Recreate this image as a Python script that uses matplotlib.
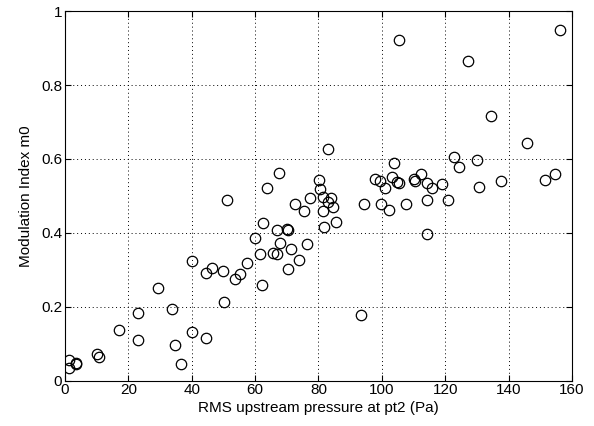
import numpy as np
import matplotlib
matplotlib.use("Agg")
import matplotlib.pyplot as plt

# RMS upstream pressure at pt2 (Pa) vs modulation index m0
pressure = [
    1.3, 1.3, 3.4, 3.6, 10.0, 10.8, 17.1, 22.9, 22.9, 29.4,
    33.9, 34.7, 36.6, 40.2, 40.2, 44.5, 44.5, 46.3, 49.9, 50.3,
    53.8, 55.2, 57.3, 59.9, 51.2, 62.2, 61.7, 62.6, 63.8, 65.5,
    66.8, 66.8, 67.5, 67.8, 70.1, 70.4, 70.4, 71.3, 72.6, 73.9,
    75.5, 76.4, 77.3, 80.1, 80.4, 81.3, 81.5, 81.8, 83.1, 83.1,
    83.8, 84.6, 85.4, 93.3, 94.3, 97.8, 99.4, 99.7, 100.9, 102.4,
    103.1, 103.9, 104.9, 105.5, 105.5, 107.6, 110.2, 110.4, 112.5, 114.1,
    114.1, 114.3, 115.7, 118.9, 120.9, 122.8, 124.4, 127.2, 130.0, 130.7,
    134.3, 137.6, 145.8, 151.6, 154.6, 156.2,
]
m0 = [
    0.055, 0.033, 0.048, 0.045, 0.072, 0.064, 0.138, 0.183, 0.109, 0.251,
    0.193, 0.096, 0.045, 0.323, 0.132, 0.116, 0.291, 0.305, 0.297, 0.213,
    0.276, 0.288, 0.317, 0.385, 0.488, 0.258, 0.342, 0.427, 0.522, 0.346,
    0.407, 0.342, 0.563, 0.373, 0.409, 0.407, 0.303, 0.355, 0.478, 0.326,
    0.458, 0.369, 0.494, 0.544, 0.519, 0.497, 0.458, 0.416, 0.628, 0.483,
    0.494, 0.470, 0.429, 0.177, 0.478, 0.545, 0.540, 0.479, 0.521, 0.462,
    0.551, 0.589, 0.537, 0.535, 0.922, 0.479, 0.546, 0.540, 0.558, 0.535,
    0.490, 0.398, 0.522, 0.533, 0.488, 0.605, 0.578, 0.866, 0.598, 0.524,
    0.715, 0.540, 0.643, 0.542, 0.560, 0.949,
]

plt.rcParams["font.family"] = ["Liberation Sans", "DejaVu Sans"]
plt.rcParams["font.size"] = 11

fig = plt.figure(figsize=(5.94, 4.26), dpi=100)
ax = fig.add_axes([0.1094, 0.1068, 0.8535, 0.867])

ax.plot(pressure, m0, "o", markerfacecolor="none", markeredgecolor="black",
        markersize=7.5, markeredgewidth=0.9)

ax.set_xlim(0, 160)
ax.set_ylim(0, 1)
ax.set_xticks(np.arange(0, 161, 20))
ax.set_yticks([0, 0.2, 0.4, 0.6, 0.8, 1])
ax.set_yticklabels(["0", "0.2", "0.4", "0.6", "0.8", "1"])
ax.grid(True, linestyle=(0, (1, 3)), color="black", linewidth=0.7)
ax.tick_params(direction="in", top=True, right=True, length=4, pad=2)
for s in ax.spines.values():
    s.set_linewidth(0.8)

ax.set_xlabel("RMS upstream pressure at pt2 (Pa)", labelpad=3)
ax.set_ylabel("Modulation Index m0", labelpad=6)

plt.savefig("out.png", dpi=100)
plt.close()
